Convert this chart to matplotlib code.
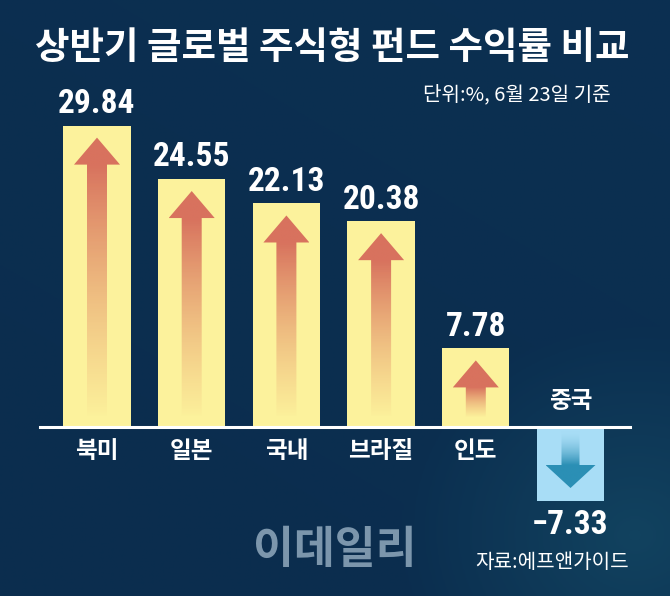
import numpy as np
import matplotlib
matplotlib.use("Agg")
import matplotlib.pyplot as plt
from matplotlib import font_manager
from matplotlib.patches import Polygon
from matplotlib.colors import to_rgb

plt.rcParams['font.family'] = ['Noto Sans CJK KR', 'DejaVu Sans']

# 데이터
categories = ["북미", "일본", "국내", "브라질", "인도", "중국"]
values = [29.84, 24.55, 22.13, 20.38, 7.78, -7.33]
value_labels = ["29.84", "24.55", "22.13", "20.38", "7.78", "−7.33"]
title = "상반기 글로벌 주식형 펀드 수익률 비교"
subtitle = "단위:%, 6월 23일 기준"
source = "자료:에프앤가이드"
watermark = "이데일리"

names = {f.name for f in font_manager.fontManager.ttflist}
num_font = 'Roboto'
for cand in ['Liberation Sans Narrow', 'Roboto Condensed', 'Archivo Narrow', 'Asap Condensed']:
    if cand in names:
        num_font = cand
        break

W, H = 670, 596
fig = plt.figure(figsize=(W / 100, H / 100), dpi=100)

# 배경 그라데이션
bg = fig.add_axes([0, 0, 1, 1])
bg.axis('off')
yy, xx = np.mgrid[0:1:200j, 0:1:200j]
c0 = np.array(to_rgb('#0b2d4e'))
c1 = np.array(to_rgb('#0b3355'))
c2 = np.array(to_rgb('#16506a'))
t = (0.3 * yy + 0.2 * xx)[..., None]
img = c0 * (1 - t) + c1 * t
spot = np.clip(1 - np.hypot(xx - 0.95, yy - 0.1) / 0.35, 0, 1)[..., None] * 0.6
img = img * (1 - spot) + c2 * spot
bg.imshow(img, extent=(0, 1, 0, 1), aspect='auto', origin='lower')
bg.set_xlim(0, 1)
bg.set_ylim(0, 1)

ax = fig.add_axes([0, 0, 1, 1])
ax.patch.set_alpha(0)
ax.axis('off')

px_x = 94.7      # 카테고리 간격(px)
px_y = 10.1      # 1% 당 px
x0 = 97          # 첫 막대 중심(px)
base_px = 427    # 기준선 위치(px, 위에서부터)
xlim = (-x0 / px_x, (W - x0) / px_x)
ylim = (-(H - base_px) / px_y, base_px / px_y)
dx, dy = 1 / px_x, 1 / px_y

x = np.arange(len(categories))
bar_colors = ['#fcf29c' if v > 0 else '#a8ddf6' for v in values]
ax.bar(x, values, width=0.71, color=bar_colors, zorder=2)
ax.axhline(0, xmin=40 / W, xmax=630 / W, color='white', lw=2.2, zorder=3)


def gradient_arrow(cx, tail, tip, head_base, hw, sw, c_head, c_tail, a_tail):
    pts = [(cx - sw, tail), (cx - sw, head_base), (cx - hw, head_base), (cx, tip),
           (cx + hw, head_base), (cx + sw, head_base), (cx + sw, tail)]
    poly = Polygon(pts, closed=True, facecolor='none', edgecolor='none')
    ax.add_patch(poly)
    n = 200
    lo, hi = min(tail, tip), max(tail, tip)
    ys = np.linspace(lo, hi, n)
    f = np.clip((ys - tail) / (head_base - tail), 0, 1)
    ch = np.array(to_rgb(c_head))
    ct = np.array(to_rgb(c_tail))
    rgba = np.zeros((n, 2, 4))
    col = ct[None, :] * (1 - f[:, None]) + ch[None, :] * f[:, None]
    rgba[:, :, :3] = col[:, None, :]
    rgba[:, :, 3] = (a_tail + (1 - a_tail) * f ** 0.7)[:, None]
    im = ax.imshow(rgba, extent=(cx - hw, cx + hw, lo, hi), origin='lower',
                   aspect='auto', zorder=4, interpolation='bilinear')
    im.set_clip_path(poly)


for i, v in enumerate(values):
    if v > 0:
        tip = v - 12 * dy
        gradient_arrow(i, 10 * dy, tip, tip - 27 * dy, 23 * dx, 10 * dx,
                       '#d8725e', '#f3c07f', 0.0)
    else:
        gradient_arrow(i, -4 * dy, -61 * dy, -38 * dy, 25 * dx, 9 * dx,
                       '#2b8fb5', '#a8ddf6', 0.0)

# 값/카테고리 라벨
num_kw = dict(color='white', fontsize=24, fontweight='bold',
              family=[num_font, 'DejaVu Sans'], ha='center', zorder=5)
cat_kw = dict(color='white', fontsize=17, fontweight='bold', ha='center', zorder=5)
for i, (v, lab, cat) in enumerate(zip(values, value_labels, categories)):
    if v > 0:
        ax.annotate(lab, (i, v), xytext=(0, 4), textcoords='offset points',
                    va='bottom', **num_kw)
        ax.annotate(cat, (i, 0), xytext=(0, -9), textcoords='offset points',
                    va='top', **cat_kw)
    else:
        ax.annotate(lab, (i, v), xytext=(0, -6), textcoords='offset points',
                    va='top', **num_kw)
        ax.annotate(cat, (i, 0), xytext=(0, 10), textcoords='offset points',
                    va='bottom', **cat_kw)

ax.set_xlim(*xlim)
ax.set_ylim(*ylim)

fig.text(332 / W, 1 - 47 / H, title, ha='center', va='center', color='white',
         fontsize=27, fontweight='bold')
fig.text(611 / W, 1 - 95 / H, subtitle, ha='right', va='center', color='white',
         fontsize=14.5, fontweight='medium')
fig.text(335 / W, 1 - 550 / H, watermark, ha='center', va='center', color='#7c96ac',
         fontsize=32, fontweight='heavy')
fig.text(629 / W, 1 - 563 / H, source, ha='right', va='center', color='white',
         fontsize=14.5, fontweight='medium')

fig.savefig('out.png', dpi=100)
